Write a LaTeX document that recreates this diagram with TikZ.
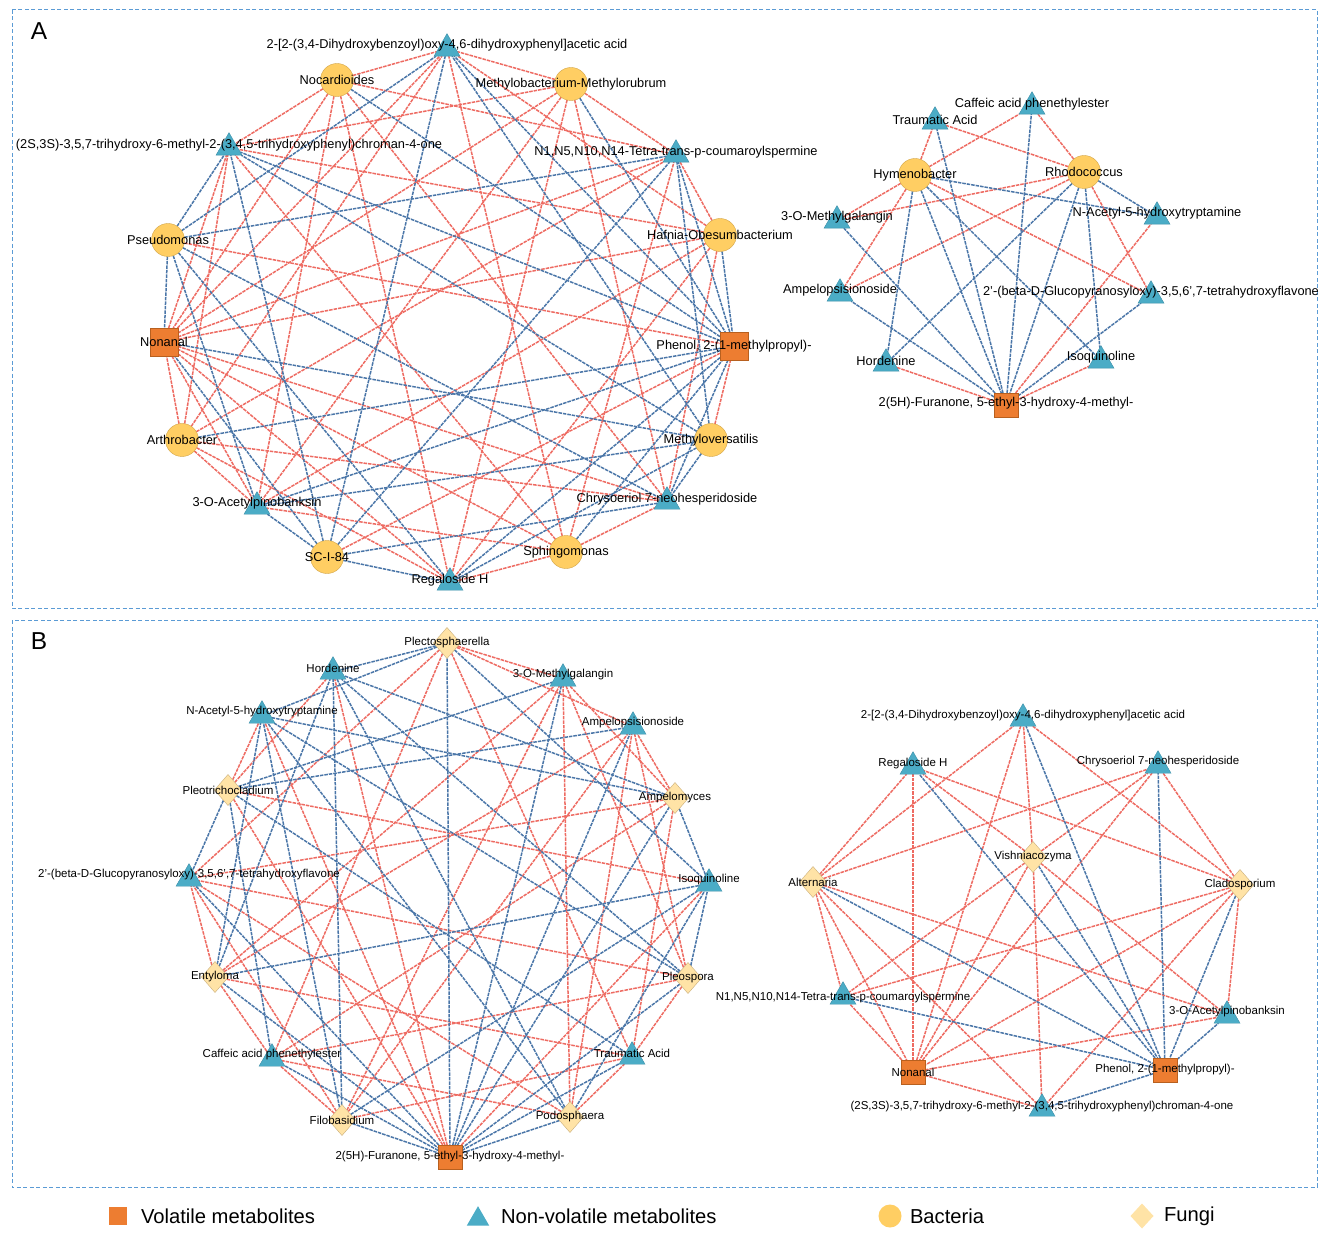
\documentclass[tikz,border=0pt]{standalone}
\usepackage{fontspec}
\setmainfont{Liberation Sans}
\usetikzlibrary{shapes.geometric}
\pgfdeclarelayer{bg}
\pgfdeclarelayer{edges}
\pgfsetlayers{bg,edges,main}
\definecolor{tricol}{HTML}{4BACC6}
\definecolor{tridraw}{HTML}{3A8EA8}
\definecolor{circol}{HTML}{FFCE63}
\definecolor{cirdraw}{HTML}{D2A445}
\definecolor{sqcol}{HTML}{ED7D31}
\definecolor{sqdraw}{HTML}{B8601F}
\definecolor{diacol}{HTML}{FFE3A6}
\definecolor{diadraw}{HTML}{CBB07C}
\definecolor{poscol}{HTML}{EE6B62}
\definecolor{negcol}{HTML}{4A76A8}
\definecolor{framecol}{HTML}{5B9BD5}
\begin{document}
\begin{tikzpicture}[x=1pt,y=-1pt,
  every node/.style={inner sep=0pt,outer sep=0pt},
  tri/.style={regular polygon,regular polygon sides=3,minimum size=30pt,fill=tricol,draw=tridraw,line width=0.4pt,yshift=-3.7pt},
  circA/.style={circle,minimum size=33pt,fill=circol,draw=cirdraw,line width=0.4pt},
  sqA/.style={rectangle,minimum size=28pt,fill=sqcol,draw=sqdraw,line width=0.4pt},
  sqB/.style={rectangle,minimum size=24pt,fill=sqcol,draw=sqdraw,line width=0.4pt},
  diaB/.style={diamond,minimum width=27pt,minimum height=31pt,fill=diacol,draw=diadraw,line width=0.4pt},
  lblA/.style={font=\fontsize{12.8}{14}\selectfont},
  lblB/.style={font=\fontsize{11.5}{13}\selectfont},
  posedge/.style={draw=poscol,line width=1.5pt,dash pattern=on 3.5pt off 1pt},
  negedge/.style={draw=negcol,line width=1.5pt,dash pattern=on 3.5pt off 1pt},
  frame/.style={draw=framecol,line width=1pt,dash pattern=on 4pt off 2.5pt},
  panel/.style={font=\fontsize{24.5}{26}\selectfont},
  legtxt/.style={font=\fontsize{20.2}{22}\selectfont,anchor=west}]
\begin{pgfonlayer}{bg}
\fill[white] (0,0) rectangle (1325,1246);
\end{pgfonlayer}
\useasboundingbox (0,0) rectangle (1325,1246);
\draw[frame] (12,10) rectangle (1317,608);
\draw[frame] (12,620) rectangle (1317,1187);
\node[panel] (labA) at (39,31) {A};
\node[panel] (labB) at (39,641) {B};

% ---------- Panel A left ----------
\node[tri] (a1) at (447,45) {};
\node[tri] (a2) at (229,144) {};
\node[tri] (a3) at (676,151) {};
\node[tri] (a4) at (257,503) {};
\node[tri] (a5) at (667,498) {};
\node[tri] (a6) at (450,579) {};
\node[sqA] (av1) at (164,342) {};
\node[sqA] (av2) at (734,346) {};
\node[circA] (ab1) at (337,80) {};
\node[circA] (ab2) at (571,84) {};
\node[circA] (ab3) at (168,240) {};
\node[circA] (ab4) at (720,235) {};
\node[circA] (ab5) at (182,440) {};
\node[circA] (ab6) at (711,440) {};
\node[circA] (ab7) at (327,557) {};
\node[circA] (ab8) at (566,552) {};

% ---------- Panel A right ----------
\node[tri] (r1) at (935,118) {};
\node[tri] (r2) at (1032,103) {};
\node[tri] (r3) at (837,217) {};
\node[tri] (r4) at (1157,213) {};
\node[tri] (r5) at (840,290) {};
\node[tri] (r6) at (1151,292) {};
\node[tri] (r7) at (886,360) {};
\node[tri] (r8) at (1101,357) {};
\node[sqB] (rv) at (1006,405) {};
\node[circA] (rb1) at (915,175) {};
\node[circA] (rb2) at (1084,172) {};

% ---------- Panel B left ----------
\node[diaB] (l1) at (447,643) {};
\node[tri] (l2) at (333,668) {};
\node[tri] (l3) at (563,675) {};
\node[tri] (l4) at (262,712) {};
\node[tri] (l5) at (633,723) {};
\node[diaB] (l6) at (228,790) {};
\node[diaB] (l7) at (675,798) {};
\node[tri] (l8) at (189,875) {};
\node[tri] (l9) at (709,880) {};
\node[diaB] (l10) at (215,977) {};
\node[diaB] (l11) at (688,978) {};
\node[tri] (l12) at (272,1055) {};
\node[tri] (l13) at (632,1053) {};
\node[diaB] (l14) at (342,1120) {};
\node[diaB] (l15) at (570,1117) {};
\node[sqB] (lv) at (450,1157) {};

% ---------- Panel B right ----------
\node[tri] (q1) at (1023,715) {};
\node[tri] (q2) at (913,763) {};
\node[tri] (q3) at (1158,762) {};
\node[tri] (q4) at (843,993) {};
\node[tri] (q5) at (1227,1012) {};
\node[tri] (q6) at (1042,1105) {};
\node[sqB] (qv1) at (913,1072) {};
\node[sqB] (qv2) at (1165,1070) {};
\node[diaB] (qf1) at (813,882) {};
\node[diaB] (qf2) at (1033,857) {};
\node[diaB] (qf3) at (1240,885) {};

% ---------- labels ----------
\node[lblA] (a1t) at (447,45) {2-[2-(3,4-Dihydroxybenzoyl)oxy-4,6-dihydroxyphenyl]acetic acid};
\node[lblA] (a2t) at (229,145) {(2S,3S)-3,5,7-trihydroxy-6-methyl-2-(3,4,5-trihydroxyphenyl)chroman-4-one};
\node[lblA] (a3t) at (676,152) {N1,N5,N10,N14-Tetra-trans-p-coumaroylspermine};
\node[lblA] (a4t) at (257,503) {3-O-Acetylpinobanksin};
\node[lblA] (a5t) at (667,499) {Chrysoeriol 7-neohesperidoside};
\node[lblA] (a6t) at (450,580) {Regaloside H};
\node[lblA] (av1t) at (164,342) {Nonanal};
\node[lblA] (av2t) at (734,346) {Phenol, 2-(1-methylpropyl)-};
\node[lblA] (ab1t) at (337,80) {Nocardioides};
\node[lblA] (ab2t) at (571,84) {Methylobacterium-Methylorubrum};
\node[lblA] (ab3t) at (168,240) {Pseudomonas};
\node[lblA] (ab4t) at (720,235) {Hafnia-Obesumbacterium};
\node[lblA] (ab5t) at (182,440) {Arthrobacter};
\node[lblA] (ab6t) at (711,440) {Methyloversatilis};
\node[lblA] (ab7t) at (327,557) {SC-I-84};
\node[lblA] (ab8t) at (566,552) {Sphingomonas};

\node[lblA] (r1t) at (935,120) {Traumatic Acid};
\node[lblA] (r2t) at (1032,104) {Caffeic acid phenethylester};
\node[lblA] (r3t) at (837,217) {3-O-Methylgalangin};
\node[lblA] (r4t) at (1157,213) {N-Acetyl-5-hydroxytryptamine};
\node[lblA] (r5t) at (840,290) {Ampelopsisionoside};
\node[lblA] (r6t) at (1151,292) {2'-(beta-D-Glucopyranosyloxy)-3,5,6',7-tetrahydroxyflavone};
\node[lblA] (r7t) at (886,361) {Hordenine};
\node[lblA] (r8t) at (1101,357) {Isoquinoline};
\node[lblA] (rvt) at (1006,403) {2(5H)-Furanone, 5-ethyl-3-hydroxy-4-methyl-};
\node[lblA] (rb1t) at (915,175) {Hymenobacter};
\node[lblA] (rb2t) at (1084,172) {Rhodococcus};

\node[lblB] (l1t) at (447,643) {Plectosphaerella};
\node[lblB] (l2t) at (333,668) {Hordenine};
\node[lblB] (l3t) at (563,675) {3-O-Methylgalangin};
\node[lblB] (l4t) at (262,712) {N-Acetyl-5-hydroxytryptamine};
\node[lblB] (l5t) at (633,723) {Ampelopsisionoside};
\node[lblB] (l6t) at (228,790) {Pleotrichocladium};
\node[lblB] (l7t) at (675,798) {Ampelomyces};
\node[lblB] (l8t) at (189,875) {2'-(beta-D-Glucopyranosyloxy)-3,5,6',7-tetrahydroxyflavone};
\node[lblB] (l9t) at (709,880) {Isoquinoline};
\node[lblB] (l10t) at (215,977) {Entyloma};
\node[lblB] (l11t) at (688,978) {Pleospora};
\node[lblB] (l12t) at (272,1055) {Caffeic acid phenethylester};
\node[lblB] (l13t) at (632,1053) {Traumatic Acid};
\node[lblB] (l14t) at (342,1120) {Filobasidium};
\node[lblB] (l15t) at (570,1117) {Podosphaera};
\node[lblB] (lvt) at (450,1157) {2(5H)-Furanone, 5-ethyl-3-hydroxy-4-methyl-};

\node[lblB] (q1t) at (1023,716) {2-[2-(3,4-Dihydroxybenzoyl)oxy-4,6-dihydroxyphenyl]acetic acid};
\node[lblB] (q2t) at (913,764) {Regaloside H};
\node[lblB] (q3t) at (1158,762) {Chrysoeriol 7-neohesperidoside};
\node[lblB] (q4t) at (843,998) {N1,N5,N10,N14-Tetra-trans-p-coumaroylspermine};
\node[lblB] (q5t) at (1227,1012) {3-O-Acetylpinobanksin};
\node[lblB] (q6t) at (1042,1107) {(2S,3S)-3,5,7-trihydroxy-6-methyl-2-(3,4,5-trihydroxyphenyl)chroman-4-one};
\node[lblB] (qv1t) at (913,1072) {Nonanal};
\node[lblB] (qv2t) at (1165,1070) {Phenol, 2-(1-methylpropyl)-};
\node[lblB] (qf1t) at (813,882) {Alternaria};
\node[lblB] (qf2t) at (1033,857) {Vishniacozyma};
\node[lblB] (qf3t) at (1240,885) {Cladosporium};

% ---------- edges ----------
\begin{pgfonlayer}{edges}
% A left
\foreach \m in {ab1,ab2,ab4,ab5,ab8} {\foreach \k in {a1,a2,a3,a4,a5,a6,av1} {\draw[posedge] (\m) -- (\k);}}
\foreach \m in {ab3,ab6,ab7} {\draw[posedge] (\m) -- (av2);}
\foreach \k in {a1,a2,a3,a4,a5,a6} {\draw[posedge] (av1) -- (\k);}
\foreach \m in {ab1,ab2,ab4,ab5,ab8} {\draw[negedge] (\m) -- (av2);}
\foreach \m in {ab3,ab6,ab7} {\foreach \k in {a1,a2,a3,a4,a5,a6,av1} {\draw[negedge] (\m) -- (\k);}}
\foreach \k in {a1,a2,a3,a4,a5,a6} {\draw[negedge] (av2) -- (\k);}
% A right
\foreach \m in {rb1,rb2} {\foreach \k in {r1,r2,r3,r5,r6} {\draw[posedge] (\m) -- (\k);}}
\foreach \k in {r4,r7,r8} {\draw[posedge] (rv) -- (\k);}
\foreach \m in {rb1,rb2} {\foreach \k in {r4,r7,r8,rv} {\draw[negedge] (\m) -- (\k);}}
\foreach \k in {r1,r2,r3,r5,r6} {\draw[negedge] (rv) -- (\k);}
% B left
\foreach \m in {l1,l7,l10,l11,l14,l15} {\foreach \k in {l3,l5,l8,l12,l13} {\draw[posedge] (\m) -- (\k);}}
\foreach \k in {l2,l4,l9,lv} {\draw[posedge] (l6) -- (\k);}
\foreach \k in {l2,l4,l9} {\draw[posedge] (lv) -- (\k);}
\foreach \m in {l1,l7,l10,l11,l14,l15} {\foreach \k in {l2,l4,l9,lv} {\draw[negedge] (\m) -- (\k);}}
\foreach \k in {l3,l5,l8,l12,l13} {\draw[negedge] (l6) -- (\k);}
\foreach \k in {l3,l5,l8,l12,l13} {\draw[negedge] (lv) -- (\k);}
% B right
\foreach \m in {qf1,qf2,qf3} {\foreach \k in {q1,q2,q3,q4,q5,q6,qv1} {\draw[posedge] (\m) -- (\k);}}
\foreach \k in {q1,q2,q3,q4,q5,q6} {\draw[posedge] (qv1) -- (\k);}
\foreach \m in {qf1,qf2,qf3} {\draw[negedge] (\m) -- (qv2);}
\foreach \k in {q1,q2,q3,q4,q5,q6} {\draw[negedge] (qv2) -- (\k);}
\end{pgfonlayer}

% ---------- legend ----------
\node[rectangle,minimum size=18pt,fill=sqcol] (lg1) at (118,1216) {};
\node[legtxt] (lg1t) at (141,1216) {Volatile metabolites};
\node[regular polygon,regular polygon sides=3,minimum size=26pt,fill=tricol,yshift=-3.2pt] (lg2) at (478,1216) {};
\node[legtxt] (lg2t) at (501,1216) {Non-volatile metabolites};
\node[circle,minimum size=23pt,fill=circol] (lg3) at (890,1216) {};
\node[legtxt] (lg3t) at (910,1216) {Bacteria};
\node[diamond,minimum width=23pt,minimum height=25pt,fill=diacol] (lg4) at (1142,1216) {};
\node[legtxt] (lg4t) at (1164,1216) {Fungi};
\end{tikzpicture}
\end{document}
